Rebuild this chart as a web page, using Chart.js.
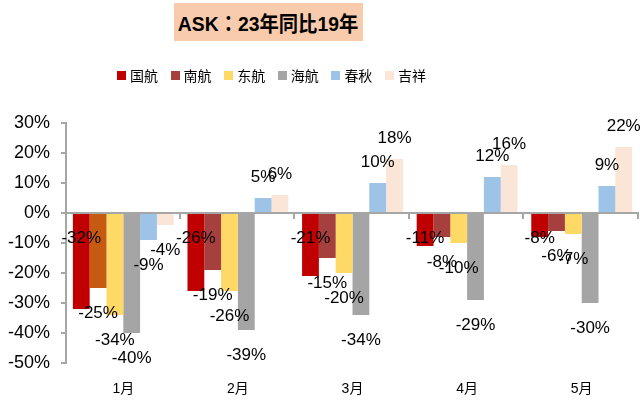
<!DOCTYPE html>
<html>
<head>
<meta charset="utf-8">
<script src="https://cdn.jsdelivr.net/npm/chart.js@4"></script>
<style>
    body { margin: 0; background: #fff; }
    #wrap { position: relative; width: 640px; height: 400px; }
    #title {
        position: absolute; left: 174px; top: 3px; width: 189px; height: 38px;
        background: #F8CBAD; color: #000; font: bold 21px 'Liberation Sans', 'Noto Sans CJK TC', sans-serif;
        display: flex; align-items: center; justify-content: center; white-space: nowrap;
    }
    #title span { display: inline-block; transform: scaleX(0.92); }
    #legend {
        position: absolute; left: 117px; top: 65px; display: flex;
        font: 14px 'Noto Sans CJK SC', sans-serif; color: #000;
    }
    #legend span { display: flex; align-items: center; width: 53.6px; height: 20px; }
    #legend i { display: inline-block; width: 9px; height: 9px; margin-right: 4px; }
</style>
</head>
<body>
<div id="wrap">
    <canvas id="chart" width="640" height="400"></canvas>
    <div id="title"><span>ASK：23年同比19年</span></div>
    <div id="legend"></div>
</div>
<script>
const months = ['1月', '2月', '3月', '4月', '5月'];
const airlines = ['国航', '南航', '东航', '海航', '春秋', '吉祥'];
const airChina = [-32, -26, -21, -11, -8];
const chinaSouthern = [-25, -19, -15, -8, -6];
const chinaEastern = [-34, -26, -20, -10, -7];
const hainan = [-40, -39, -34, -29, -30];
const springAir = [-9, 5, 10, 12, 9];
const juneyao = [-4, 6, 18, 16, 22];
const colors = ['#C00000', '#A5403F', '#FFD966', '#A5A5A5', '#9DC3E6', '#FBE5D6'];

const seriesValues = [airChina, chinaSouthern, chinaEastern, hainan, springAir, juneyao];
const AXIS_GREY = '#A6A6A6';

// legend as plain html
let legendEl = document.getElementById('legend');
airlines.forEach((name, i) => {
    let item = document.createElement('span');
    item.innerHTML = '<i style="background:' + colors[i] + '"></i>' + name;
    legendEl.append(item);
});

// zero line, category ticks and value labels
const overlayPlugin = {
    id: 'overlay',
    afterDatasetsDraw(chart) {
        let ctx = chart.ctx;
        let area = chart.chartArea;
        let y0 = chart.scales.y.getPixelForValue(0);

        ctx.save();
        ctx.strokeStyle = AXIS_GREY;
        ctx.lineWidth = 2;
        ctx.beginPath();
        ctx.moveTo(area.left, y0);
        ctx.lineTo(area.right, y0);
        for (let i = 1; i <= months.length; i++) {
            let bx = Math.round(area.left + (area.right - area.left) * i / months.length) - 1;
            ctx.moveTo(bx, y0);
            ctx.lineTo(bx, y0 + 6);
        }
        ctx.stroke();

        ctx.fillStyle = '#000';
        ctx.font = '17px "Liberation Sans", Arial, sans-serif';
        ctx.textAlign = 'center';
        ctx.textBaseline = 'middle';
        chart.data.datasets.forEach((ds, di) => {
            chart.getDatasetMeta(di).data.forEach((bar, j) => {
                let v = ds.data[j];
                let ly;
                if (di == 0) ly = y0 + 25;
                else if (v < 0) ly = bar.y + 25;
                else ly = bar.y - 21;
                ctx.fillText(v + '%', bar.x, ly);
            });
        });
        ctx.restore();
    }
};

let datasets = seriesValues.map((values, i) => ({
    label: airlines[i],
    data: values,
    backgroundColor: i == 1 ? values.map((v, j) => j == 0 ? '#C55A11' : colors[i]) : colors[i],
    borderWidth: 0,
    categoryPercentage: 0.88,
    barPercentage: 1.0,
}));

new Chart(document.getElementById('chart'), {
    type: 'bar',
    data: { labels: months, datasets: datasets },
    options: {
        responsive: false,
        animation: false,
        layout: { padding: { top: 123, right: 1, bottom: 0, left: 0 } },
        plugins: {
            legend: { display: false },
            tooltip: { enabled: false },
            title: { display: false },
        },
        scales: {
            x: {
                afterFit: (scale) => { scale.height = 37; },
                grid: { display: false, drawTicks: false },
                border: { display: false },
                ticks: {
                    padding: 18,
                    color: '#000',
                    font: { size: 14, family: '"Liberation Sans", "Noto Sans CJK SC", sans-serif' },
                },
            },
            y: {
                min: -50,
                max: 30,
                afterFit: (scale) => { scale.width = 66; },
                grid: { drawOnChartArea: false, drawTicks: true, tickLength: 5, color: AXIS_GREY, lineWidth: 2 },
                border: { display: true, color: AXIS_GREY, width: 2 },
                ticks: {
                    stepSize: 10,
                    padding: 11,
                    color: '#000',
                    font: { size: 18, family: '"Liberation Sans", Arial, sans-serif' },
                    callback: (v) => v + '%',
                },
            },
        },
    },
    plugins: [overlayPlugin],
});
</script>
</body>
</html>
